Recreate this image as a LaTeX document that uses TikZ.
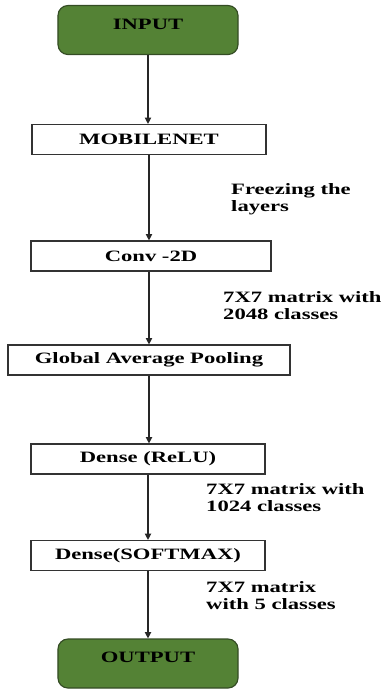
\documentclass[tikz,border=0pt]{standalone}
\usepackage{fontspec}
\setmainfont{Liberation Serif}
\usetikzlibrary{arrows.meta,positioning}
\definecolor{leafgreen}{RGB}{84,130,53}
\definecolor{darkleaf}{RGB}{52,76,36}
\newcommand{\wide}[1]{\scalebox{1.43}[1]{#1}}
\tikzstyle{arrow} = [
    line width=1pt,
    -{Triangle[length=1.9mm,width=1.9mm]},
    draw=black!85
]
\begin{document}
\begin{tikzpicture}[
    x=0.03cm, y=-0.03cm,
    every node/.style={
        font=\bfseries\fontsize{13.5}{14.5}\selectfont
    },
    layer/.style={
        draw=black!80,
        line width=1pt,
        fill=white,
        minimum height=0.9cm,
        inner sep=0pt
    },
    terminal/.style={
        draw=darkleaf,
        line width=1pt,
        fill=leafgreen,
        rounded corners=0.3cm,
        minimum width=5.4cm,
        minimum height=1.47cm,
        text depth=0.36cm,
        inner sep=0pt
    },
    note/.style={
        anchor=west,
        inner sep=0pt
    }
]
\useasboundingbox (0,0) rectangle (383,689);

% Nodes
\node (input) [terminal] at (148,30) {\wide{INPUT}};
\node (mobilenet) [layer, minimum width=7.02cm] at (149,139.5) {\wide{MOBILENET}};
\node (conv) [layer, minimum width=7.2cm] at (151,256) {\wide{Conv -2D}};
\node (pooling) [layer, minimum width=8.46cm] at (149,360) {\wide{Global Average Pooling}};
\node (relu) [layer, minimum width=7.02cm] at (148,459) {\wide{Dense (ReLU)}};
\node (softmax) [layer, minimum width=7.02cm] at (148,555.5) {\wide{Dense(SOFTMAX)}};
\node (output) [terminal] at (148,663.5) {\wide{OUTPUT}};

% Edges
\draw[arrow] (input) -- (input |- mobilenet.north);
\draw[arrow] (mobilenet) -- (mobilenet |- conv.north);
\draw[arrow] (mobilenet |- conv.south) -- (mobilenet |- pooling.north);
\draw[arrow] (pooling) -- (pooling |- relu.north);
\draw[arrow] (relu) -- (relu |- softmax.north);
\draw[arrow] (softmax) -- (softmax |- output.north);

% Annotations
\node (freeze) [note] at (231,200) {\wide{\begin{tabular}{@{}l@{}}Freezing the\\layers\end{tabular}}};
\node (shape2048) [note] at (223,308) {\wide{\begin{tabular}{@{}l@{}}7X7 matrix with\\2048 classes\end{tabular}}};
\node (shape1024) [note] at (206,500) {\wide{\begin{tabular}{@{}l@{}}7X7 matrix with\\1024 classes\end{tabular}}};
\node (shape5) [note] at (206,598) {\wide{\begin{tabular}{@{}l@{}}7X7 matrix\\with 5 classes\end{tabular}}};

\end{tikzpicture}
\end{document}
